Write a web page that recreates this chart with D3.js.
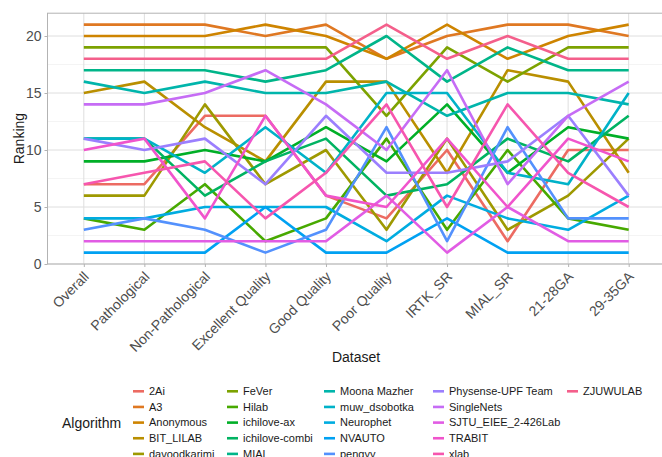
<!DOCTYPE html>
<html><head><meta charset="utf-8">
<script src="https://cdn.jsdelivr.net/npm/d3@7"></script>
<style>body{margin:0;background:#fff}svg{display:block}text{font-family:"Liberation Sans",Arial,sans-serif}</style>
</head><body><svg id="c" width="662" height="457"></svg>
<script>
const datasets = ["Overall","Pathological","Non-Pathological","Excellent Quality","Good Quality","Poor Quality","IRTK_SR","MIAL_SR","21-28GA","29-35GA"];
const algorithms = ["2Ai","A3","Anonymous","BIT_LILAB","davoodkarimi","FeVer","Hilab","ichilove-ax","ichilove-combi","MIAL","Moona Mazher","muw_dsobotka","Neurophet","NVAUTO","pengyy","Physense-UPF Team","SingleNets","SJTU_EIEE_2-426Lab","TRABIT","xlab","ZJUWULAB"];
const yTicks = [0,5,10,15,20];

const rank_2Ai        = [7,7,13,13,6,4,10,2,10,10];
const rank_A3         = [21,21,21,20,21,18,20,21,21,20];
const rank_Anonymous  = [20,20,20,21,20,18,21,18,20,21];
const rank_BIT_LILAB  = [15,16,12,9,16,16,8,17,16,8];
const rank_davood     = [6,6,14,7,10,3,11,3,6,11];
const rank_FeVer      = [19,19,19,19,19,13,19,16,19,19];
const rank_Hilab      = [4,3,7,2,4,11,3,10,4,3];
const rank_ichiloveAx = [9,9,10,9,12,9,14,8,12,11];
const rank_ichiloveCo = [11,11,6,9,11,6,7,11,9,13];
const rank_MIAL       = [17,17,17,16,17,20,16,19,17,17];
const rank_Moona      = [16,15,16,15,15,16,13,15,15,14];
const rank_muw        = [11,11,8,12,8,15,15,8,7,15];
const rank_Neurophet  = [4,4,5,5,5,2,6,4,3,6];
const rank_NVAUTO     = [1,1,1,5,1,1,4,1,1,1];
const rank_pengyy     = [3,4,3,1,3,12,2,12,4,4];
const rank_Physense   = [11,10,11,7,13,8,8,9,13,6];
const rank_SingleNets = [14,14,15,17,14,10,17,7,13,16];
const rank_SJTU       = [2,2,2,2,2,6,1,5,2,2];
const rank_TRABIT     = [10,11,4,13,6,5,11,5,11,9];
const rank_xlab       = [7,8,9,4,8,14,5,14,8,5];
const rank_ZJUWULAB   = [18,18,18,18,18,21,18,20,18,18];

const seriesValues = [rank_2Ai,rank_A3,rank_Anonymous,rank_BIT_LILAB,rank_davood,rank_FeVer,rank_Hilab,rank_ichiloveAx,rank_ichiloveCo,rank_MIAL,rank_Moona,rank_muw,rank_Neurophet,rank_NVAUTO,rank_pengyy,rank_Physense,rank_SingleNets,rank_SJTU,rank_TRABIT,rank_xlab,rank_ZJUWULAB];

// ggplot2 hue palette (polar LUV)
function hclLuv(h, c, l) {
  const Xn=95.047,Yn=100,Zn=108.883;
  const un=4*Xn/(Xn+15*Yn+3*Zn), vn=9*Yn/(Xn+15*Yn+3*Zn);
  const U=c*Math.cos(h*Math.PI/180), V=c*Math.sin(h*Math.PI/180);
  const Y = Yn*(l>8?Math.pow((l+16)/116,3):l/903.3);
  const u=U/(13*l)+un, v=V/(13*l)+vn;
  const X=9*Y*u/(4*v), Z=-X/3-5*Y+3*Y/v;
  const x=X/100,y=Y/100,z=Z/100;
  const lin=[3.240479*x-1.537150*y-0.498535*z,-0.969256*x+1.875992*y+0.041556*z,0.055648*x-0.204043*y+1.057311*z];
  const g=lin.map(t=>{t=t<=0.0031308?12.92*t:1.055*Math.pow(t,1/2.4)-0.055;return Math.round(Math.max(0,Math.min(1,t))*255);});
  return d3.rgb(g[0],g[1],g[2]).formatHex();
}
const n = algorithms.length;
const palette = algorithms.map((a,i)=>hclLuv(15+360/(n)*i, 100, 61));
const color = d3.scaleOrdinal().domain(algorithms).range(palette);

const svg = d3.select("#c");
const P = {l:47.5, r:665, t:13.2, b:264};
const x = d3.scalePoint().domain(datasets).range([P.l,P.r]).padding(0.6);
const y = d3.scaleLinear().domain([0,22]).range([P.b,P.t]);

const g = svg.append("g");
// grid
g.selectAll(".minor").data([2.5,7.5,12.5,17.5]).join("line")
  .attr("x1",P.l).attr("x2",P.r).attr("y1",d=>y(d)).attr("y2",d=>y(d))
  .attr("stroke","#ececec").attr("stroke-width",0.6);
g.selectAll(".majorY").data(yTicks).join("line")
  .attr("x1",P.l).attr("x2",P.r).attr("y1",d=>y(d)).attr("y2",d=>y(d))
  .attr("stroke","#dedede").attr("stroke-width",1);
g.selectAll(".majorX").data(datasets).join("line")
  .attr("x1",d=>x(d)).attr("x2",d=>x(d)).attr("y1",P.t).attr("y2",P.b)
  .attr("stroke","#dedede").attr("stroke-width",1);

// lines
const line = d3.line().x((d,i)=>x(datasets[i])).y(d=>y(d));
g.selectAll(".series").data(algorithms.map((a,i)=>({a,v:seriesValues[i]}))).join("path")
  .attr("d",d=>line(d.v)).attr("fill","none").attr("stroke",d=>color(d.a))
  .attr("stroke-width",2.6).attr("stroke-linejoin","round");

// border
g.append("rect").attr("x",P.l).attr("y",P.t).attr("width",P.r-P.l).attr("height",P.b-P.t)
  .attr("fill","none").attr("stroke","#b3b3b3").attr("stroke-width",1);

// axes
const yAxis = d3.axisLeft(y).tickValues(yTicks).tickSize(3).tickPadding(3);
const ya = svg.append("g").attr("transform",`translate(${P.l},0)`).call(yAxis);
ya.select(".domain").remove();
ya.selectAll("line").attr("stroke","#b3b3b3");
ya.selectAll("text").attr("font-size",14).attr("fill","#4d4d4d").attr("font-family","Liberation Sans, Arial, sans-serif");

const xAxis = d3.axisBottom(x).tickSize(3).tickPadding(2);
const xa = svg.append("g").attr("transform",`translate(0,${P.b})`).call(xAxis);
xa.select(".domain").remove();
xa.selectAll("line").attr("stroke","#b3b3b3");
xa.selectAll("text").attr("font-size",14).attr("fill","#4d4d4d").attr("font-family","Liberation Sans, Arial, sans-serif")
  .attr("text-anchor","end").attr("dy","0.35em").attr("transform","translate(2,10) rotate(-45)").attr("y",0).attr("x",0);

svg.append("text").attr("transform",`translate(19,${(P.t+P.b)/2}) rotate(-90)`).attr("text-anchor","middle")
  .attr("dy","0.35em").attr("font-size",14).attr("fill","#1a1a1a").text("Ranking");
svg.append("text").attr("x",356).attr("y",357).attr("text-anchor","middle").attr("dy","0.35em")
  .attr("font-size",14).attr("fill","#1a1a1a").text("Dataset");

// legend
const leg = svg.append("g");
leg.append("text").attr("x",62).attr("y",423).attr("dy","0.35em").attr("font-size",14).attr("fill","#1a1a1a").text("Algorithm");
const colX = [133,227,324,433,567];
const rowY0 = 391.3, rowH = 15.65;
algorithms.forEach((a,i)=>{
  const c = Math.floor(i/5), r = i%5;
  const gy = rowY0 + r*rowH;
  leg.append("line").attr("x1",colX[c]).attr("x2",colX[c]+11).attr("y1",gy).attr("y2",gy)
    .attr("stroke",color(a)).attr("stroke-width",2.6);
  leg.append("text").attr("x",colX[c]+16).attr("y",gy).attr("dy","0.35em").attr("font-size",11).attr("fill","#1a1a1a").text(a);
});
</script></body></html>
